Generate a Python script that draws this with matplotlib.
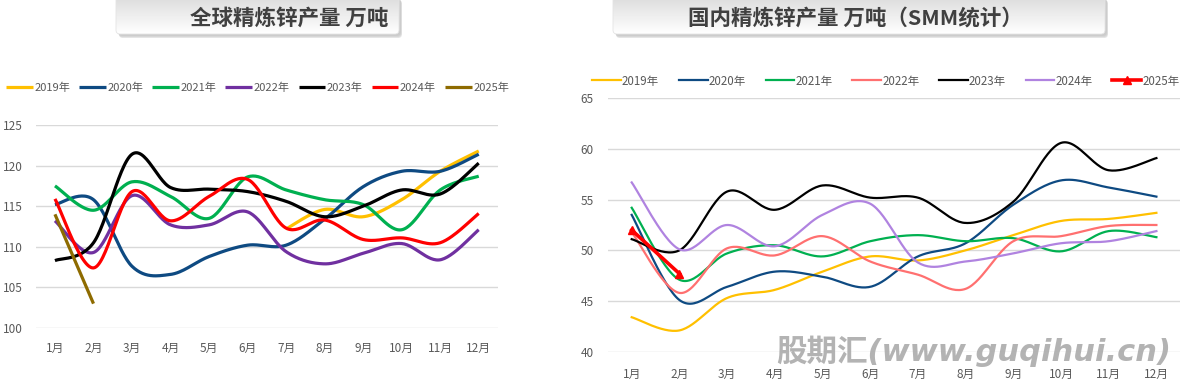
import numpy as np
import matplotlib
matplotlib.use('Agg')
import matplotlib.pyplot as plt
from matplotlib.patches import FancyBboxPatch

plt.rcParams['font.family'] = ['Noto Sans CJK SC', 'DejaVu Sans']

months = ['1月', '2月', '3月', '4月', '5月', '6月', '7月', '8月', '9月', '10月', '11月', '12月']

# 全球精炼锌产量 万吨
g_years = ['2019年', '2020年', '2021年', '2022年', '2023年', '2024年', '2025年']
g_2019 = [None, None, None, None, None, None, 112.2, 114.6, 113.7, 115.8, 119.3, 121.8]
g_2020 = [115.2, 115.8, 107.6, 106.6, 108.8, 110.2, 110.2, 113.4, 117.4, 119.3, 119.3, 121.4]
g_2021 = [117.5, 114.5, 118.0, 116.2, 113.5, 118.6, 117.0, 115.8, 115.2, 112.1, 117.0, 118.7]
g_2022 = [113.2, 109.3, 116.3, 112.7, 112.7, 114.3, 109.4, 107.9, 109.2, 110.4, 108.4, 112.1]
g_2023 = [108.3, 110.5, 121.4, 117.3, 117.1, 116.8, 115.6, 113.7, 115.0, 117.0, 116.5, 120.3]
g_2024 = [115.9, 107.4, 116.8, 113.2, 116.2, 118.3, 112.3, 113.3, 110.9, 111.1, 110.5, 114.1]
g_2025 = [114.0, 103.0]
g_colors = ['#FFC000', '#0E4A82', '#00B050', '#7030A0', '#000000', '#FF0000', '#8E6B00']

# 国内精炼锌产量 万吨（SMM统计）
d_years = ['2019年', '2020年', '2021年', '2022年', '2023年', '2024年', '2025年']
d_2019 = [43.4, 42.1, 45.3, 46.1, 47.9, 49.4, 49.0, 50.0, 51.5, 52.9, 53.1, 53.7]
d_2020 = [53.5, 45.1, 46.4, 47.9, 47.4, 46.4, 49.4, 50.7, 54.5, 56.9, 56.2, 55.3]
d_2021 = [54.2, 47.1, 49.7, 50.5, 49.4, 50.9, 51.5, 50.9, 51.2, 49.9, 51.9, 51.3]
d_2022 = [51.8, 45.8, 50.2, 49.5, 51.4, 48.9, 47.6, 46.2, 50.9, 51.4, 52.4, 52.5]
d_2023 = [51.1, 50.0, 55.8, 54.0, 56.4, 55.2, 55.2, 52.7, 54.8, 60.6, 57.9, 59.1]
d_2024 = [56.7, 50.1, 52.5, 50.4, 53.5, 54.6, 48.8, 48.9, 49.7, 50.7, 50.9, 51.9]
d_2025 = [52.0, 47.7]
d_colors = ['#FFC000', '#0E4A82', '#00B050', '#FF7070', '#000000', '#B083E0', '#FF0000']

grid_c = '#D9D9D9'
tick_c = '#595959'


def smooth(xs, ys, n=30):
    # Excel-like smoothed line (bezier through the points)
    xs = np.asarray(xs, float)
    ys = np.asarray(ys, float)
    if len(xs) < 3:
        return xs, ys
    P = np.column_stack([xs, ys])
    Pe = np.vstack([P[0], P, P[-1]])
    out = []
    t = np.linspace(0, 1, n)[:, None]
    for i in range(len(P) - 1):
        p0, p1, p2, p3 = Pe[i], Pe[i + 1], Pe[i + 2], Pe[i + 3]
        c1 = p1 + (p2 - p0) / 6
        c2 = p2 - (p3 - p1) / 6
        seg = (1 - t) ** 3 * p1 + 3 * (1 - t) ** 2 * t * c1 + 3 * (1 - t) * t ** 2 * c2 + t ** 3 * p2
        out.append(seg if i == 0 else seg[1:])
    out = np.vstack(out)
    return out[:, 0], out[:, 1]


def series_xy(vals):
    xs = [i + 1 for i, v in enumerate(vals) if v is not None]
    ys = [v for v in vals if v is not None]
    return xs, ys


fig = plt.figure(figsize=(11.84, 3.83), dpi=100)

# background layer for the title boxes
bg = fig.add_axes([0, 0, 1, 1], zorder=-1)
bg.set_xlim(0, 1184)
bg.set_ylim(383, 0)
bg.axis('off')


def title_box(x0, x1, y0, y1, text, cx):
    for k, a in enumerate([0.10, 0.14, 0.20]):
        sh = FancyBboxPatch((x0 + 2 + k * 0.5, y0 + 2 + k), x1 - x0, y1 - y0,
                            boxstyle='round,pad=0,rounding_size=4', fc='#7F7F7F', ec='none',
                            alpha=a, zorder=0.5)
        bg.add_patch(sh)
    box = FancyBboxPatch((x0, y0), x1 - x0, y1 - y0, boxstyle='round,pad=0,rounding_size=4',
                         fc='none', ec='#E4E4E4', lw=0.6, zorder=2)
    bg.add_patch(box)
    grad = np.linspace(0.86, 1.0, 64)[:, None] * np.ones((1, 2))
    im = bg.imshow(grad, cmap='gray', vmin=0, vmax=1, extent=(x0, x1, y1, y0), aspect='auto',
                   zorder=1.5)
    im.set_clip_path(box)
    bg.set_xlim(0, 1184)
    bg.set_ylim(383, 0)
    bg.text(cx, (y0 + y1) / 2 + 3, text, ha='center', va='center', fontsize=15.5,
            fontweight='bold', color='#404040', zorder=3)


title_box(116, 399, -4, 34, '全球精炼锌产量 万吨', 289)
title_box(613, 1105, -4, 34, '国内精炼锌产量 万吨（SMM统计）', 855)

# left chart
ax1 = fig.add_axes([35.7 / 1184, 1 - 328 / 383, 462.3 / 1184, 203 / 383])
g_all = [g_2019, g_2020, g_2021, g_2022, g_2023, g_2024, g_2025]
handles1 = []
for vals, c, lab in zip(g_all, g_colors, g_years):
    xs, ys = series_xy(vals)
    sx, sy = smooth(xs, ys)
    ln, = ax1.plot(sx, sy, color=c, lw=2.3, label=lab, solid_capstyle='butt')
    handles1.append(ln)
ax1.set_xlim(0.5, 12.5)
ax1.set_ylim(100, 125)
ax1.set_yticks([100, 105, 110, 115, 120, 125])
ax1.set_xticks(range(1, 13))
ax1.set_xticklabels(months)
ax1.grid(axis='y', color=grid_c, lw=1)
ax1.set_axisbelow(True)
for s in ax1.spines.values():
    s.set_visible(False)
ax1.tick_params(length=0, colors=tick_c, labelsize=8.5)
ax1.tick_params(axis='x', pad=10)
ax1.tick_params(axis='y', pad=9)
fig.legend(handles=handles1, loc='center left', bbox_to_anchor=(6 / 1184, 1 - 88 / 383),
           ncol=7, frameon=False, fontsize=8, handlelength=2.4, handletextpad=0.15,
           columnspacing=0.8, labelcolor=tick_c, borderaxespad=0, borderpad=0)

# right chart
ax2 = fig.add_axes([607.85 / 1184, 1 - 351.7 / 383, 572.4 / 1184, 253.4 / 383])
d_all = [d_2019, d_2020, d_2021, d_2022, d_2023, d_2024, d_2025]
handles2 = []
for vals, c, lab in zip(d_all, d_colors, d_years):
    xs, ys = series_xy(vals)
    sx, sy = smooth(xs, ys)
    if lab == '2025年':
        ln, = ax2.plot(sx, sy, color=c, lw=2.6, label=lab, marker='^', markersize=6)
    else:
        ln, = ax2.plot(sx, sy, color=c, lw=1.6, label=lab)
    handles2.append(ln)
ax2.set_xlim(0.5, 12.5)
ax2.set_ylim(40, 65)
ax2.set_yticks([40, 45, 50, 55, 60, 65])
ax2.set_xticks(range(1, 13))
ax2.set_xticklabels(months)
ax2.grid(axis='y', color=grid_c, lw=1)
ax2.set_axisbelow(True)
for s in ax2.spines.values():
    s.set_visible(False)
ax2.tick_params(length=0, colors=tick_c, labelsize=8.5)
ax2.tick_params(axis='x', pad=12)
ax2.tick_params(axis='y', pad=10)
fig.legend(handles=handles2, loc='center left', bbox_to_anchor=(592 / 1184, 1 - 81 / 383),
           ncol=7, frameon=False, fontsize=8.3, handlelength=2.5, handletextpad=0.1,
           columnspacing=1.7, labelcolor=tick_c, borderaxespad=0, borderpad=0)

# watermark
fig.text(974 / 1184, 1 - 351 / 383, '股期汇(www.guqihui.cn)', ha='center', va='center',
         fontsize=22, fontweight='bold', style='italic', color='#A6A6A6', alpha=0.85,
         family=['DejaVu Sans', 'Noto Sans CJK SC'], zorder=10)

fig.savefig('out.png', dpi=100)
